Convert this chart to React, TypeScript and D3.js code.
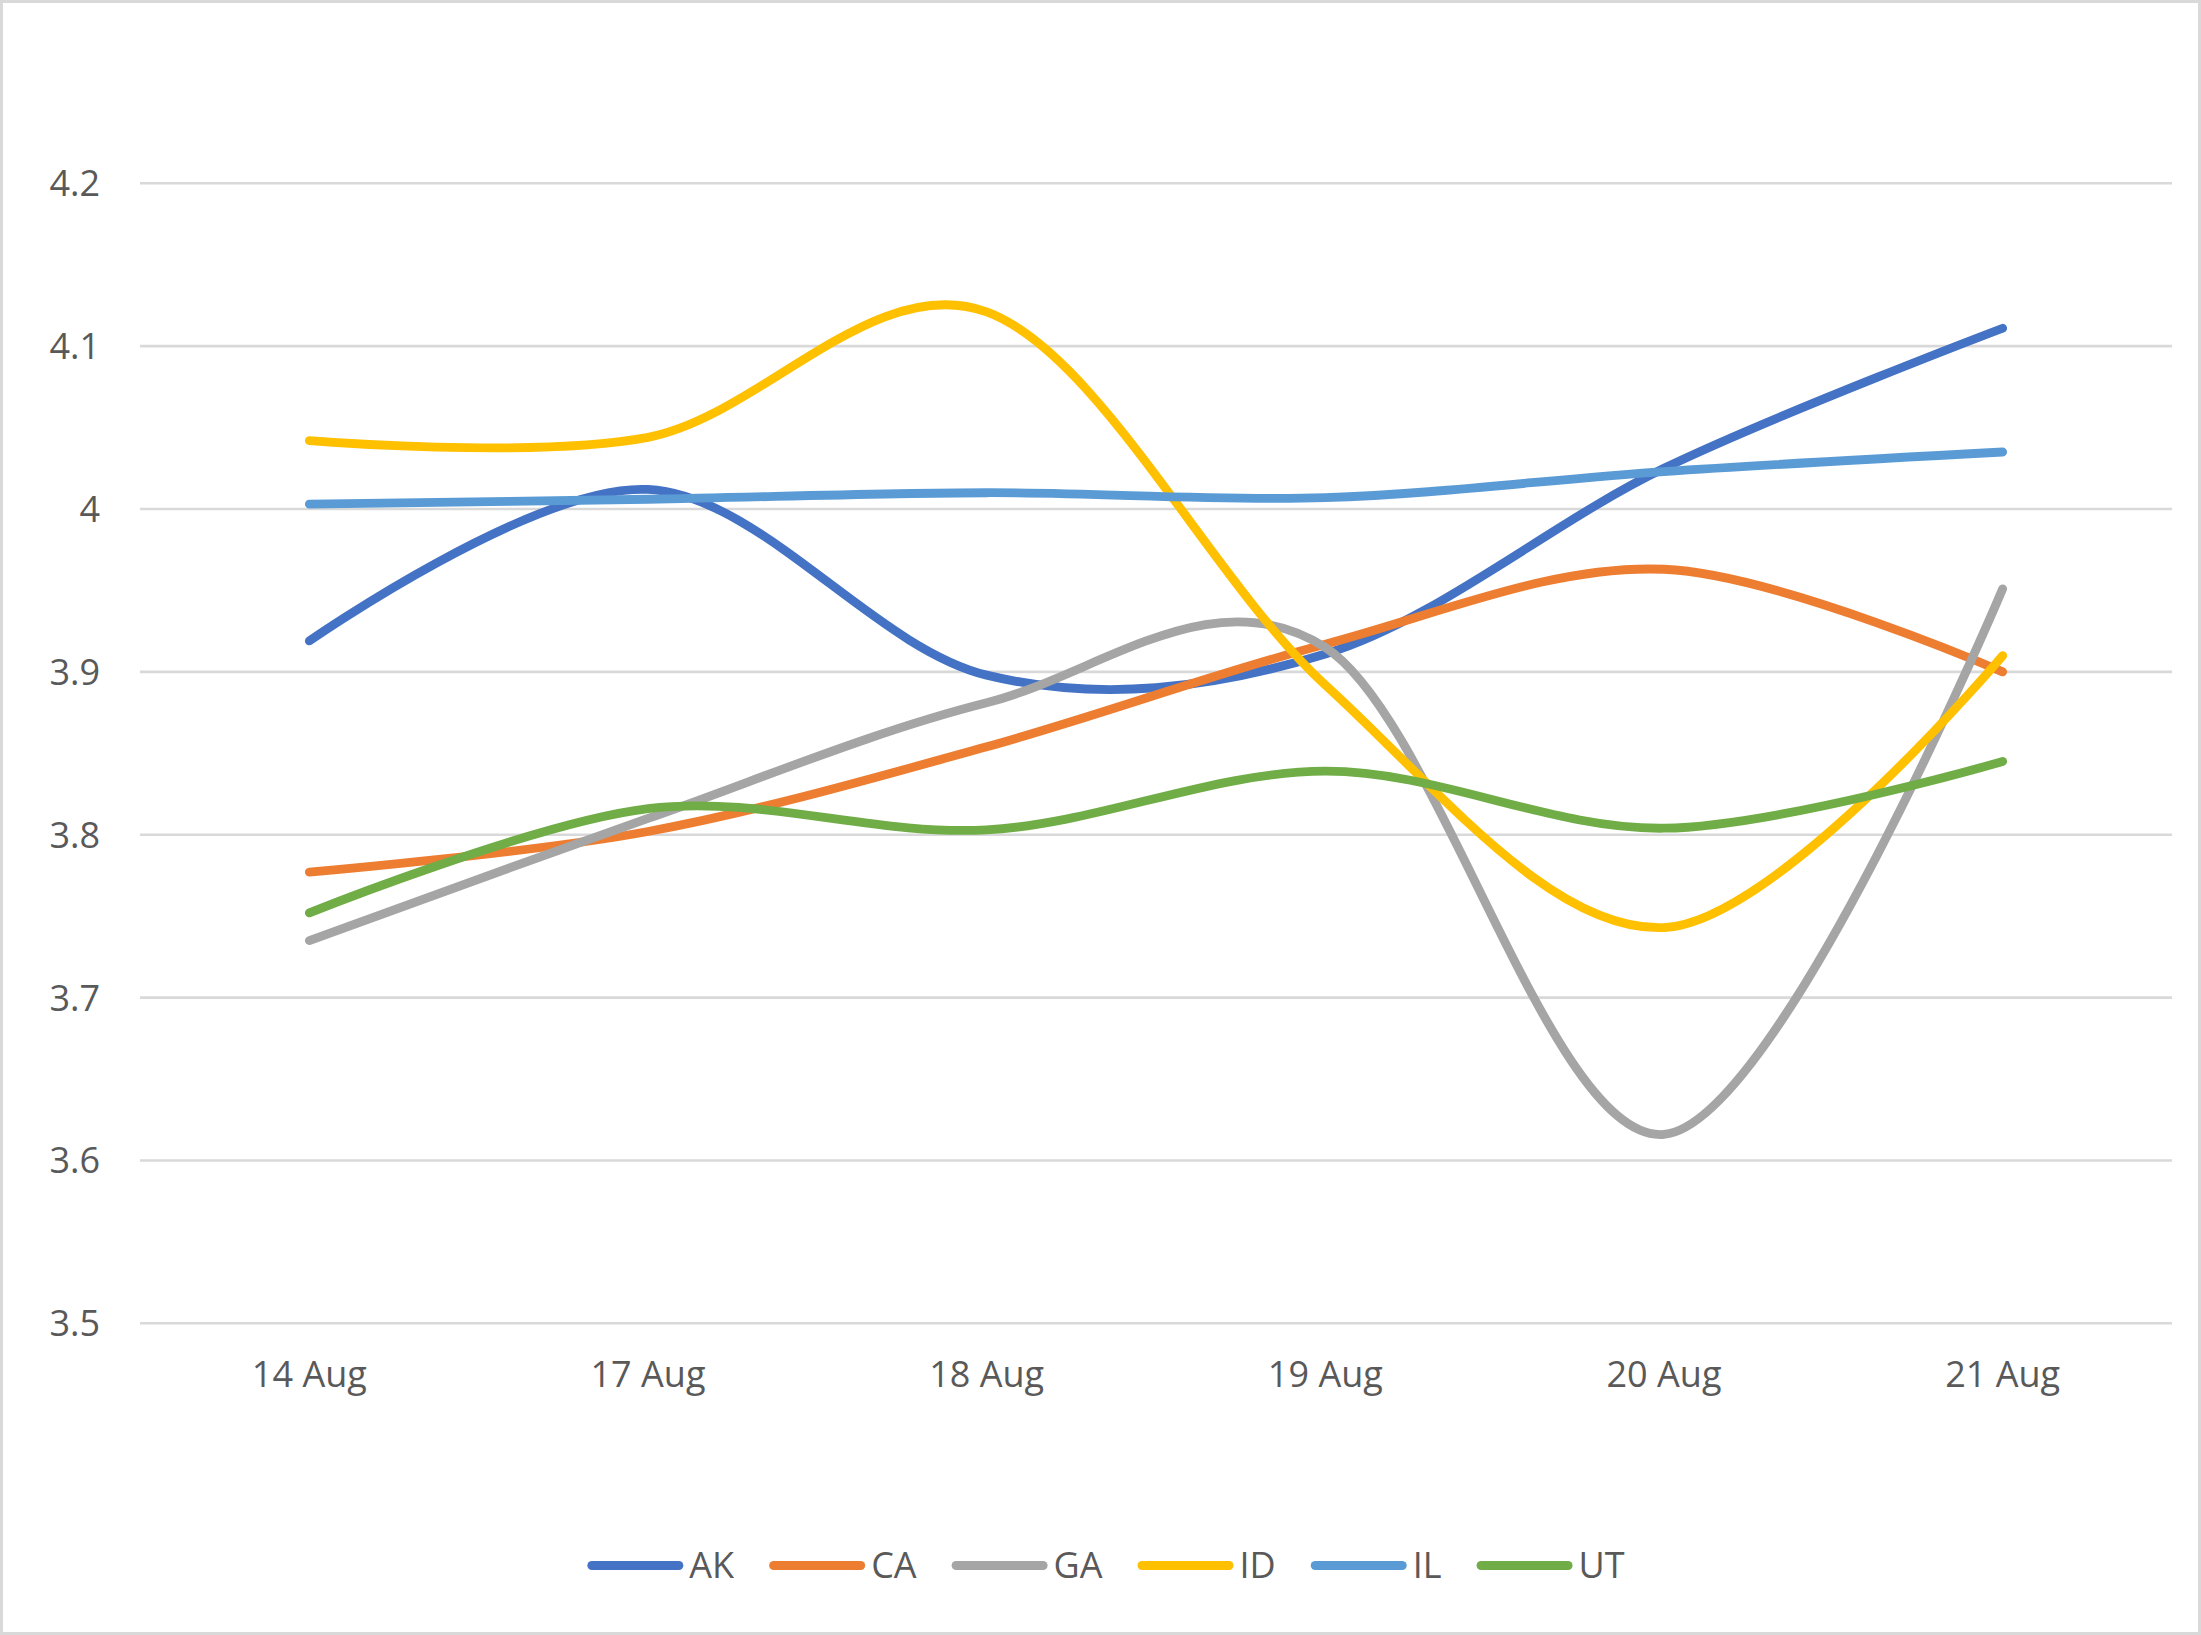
import React from "react";
import * as d3 from "d3";

const dates = ["14 Aug", "17 Aug", "18 Aug", "19 Aug", "20 Aug", "21 Aug"];
const seriesNames = ["AK", "CA", "GA", "ID", "IL", "UT"];
const seriesColors = ["#4472C4", "#ED7D31", "#A5A5A5", "#FFC000", "#5B9BD5", "#70AD47"];
const AK = [3.919, 4.012, 3.898, 3.911, 4.025, 4.111];
const CA = [3.777, 3.802, 3.854, 3.917, 3.963, 3.9];
const GA = [3.735, 3.81, 3.881, 3.915, 3.616, 3.951];
const ID = [4.042, 4.044, 4.121, 3.892, 3.743, 3.91];
const IL = [4.003, 4.006, 4.01, 4.007, 4.023, 4.035];
const UT = [3.752, 3.816, 3.803, 3.839, 3.804, 3.845];
const yTicks = [3.5, 3.6, 3.7, 3.8, 3.9, 4.0, 4.1, 4.2];

const seriesValues = [AK, CA, GA, ID, IL, UT];

const W = 2201;
const H = 1635;
const FONT = "'Open Sans', 'Noto Sans', sans-serif";
const FS = 36;
const TEXT = "#595959";

function measure(text: string): number {
  if (typeof document === "undefined") return text.length * FS * 0.6;
  const c = document.createElement("canvas");
  const ctx = c.getContext("2d");
  if (!ctx) return text.length * FS * 0.6;
  ctx.font = `${FS}px 'Open Sans', 'Noto Sans', sans-serif`;
  return ctx.measureText(text).width;
}

export default function App() {
  const x = d3.scalePoint<string>().domain(dates).range([140, 2172]).padding(0.5);
  const y = d3.scaleLinear().domain([3.5, 4.2]).range([1323.3, 183.3]);

  const line = d3
    .line<number>()
    .x((_, i) => x(dates[i]) as number)
    .y((v) => y(v))
    .curve(d3.curveCardinal.tension(0));

  // legend layout
  const lineLen = 96;
  const gapText = 6;
  const gapItem = 35;
  const widths = seriesNames.map((n) => measure(n));
  const itemWidths = widths.map((w) => lineLen + gapText + w);
  const total = itemWidths.reduce((a, b) => a + b, 0) + gapItem * (seriesNames.length - 1);
  const legendCenter = 1106;
  let cursor = legendCenter - total / 2;
  const legendItems = seriesNames.map((n, i) => {
    const start = cursor;
    cursor += itemWidths[i] + gapItem;
    return { name: n, color: seriesColors[i], start };
  });
  const legendY = 1565.5;

  return (
    <svg
      width={W}
      height={H}
      style={{ position: "absolute", left: 0, top: 0, background: "#fff" }}
      fontFamily={FONT}
    >
      <rect x={1.5} y={1.5} width={W - 3} height={H - 3} fill="#fff" stroke="#D9D9D9" strokeWidth={3} />
      <g>
        {yTicks.map((t) => (
          <g key={t}>
            <line x1={140} x2={2172} y1={y(t)} y2={y(t)} stroke="#D9D9D9" strokeWidth={2.6} />
            <text x={100} y={y(t) + 13} textAnchor="end" fontSize={FS} fill={TEXT}>
              {String(+t.toFixed(1))}
            </text>
          </g>
        ))}
      </g>
      <g>
        {dates.map((d) => (
          <text key={d} x={x(d) as number} y={1387} textAnchor="middle" fontSize={FS} fill={TEXT}>
            {d}
          </text>
        ))}
      </g>
      <g>
        {seriesValues.map((vals, i) => (
          <path
            key={seriesNames[i]}
            d={line(vals) || ""}
            fill="none"
            stroke={seriesColors[i]}
            strokeWidth={8.8}
            strokeLinecap="round"
            strokeLinejoin="round"
          />
        ))}
      </g>
      <g>
        {legendItems.map((it) => (
          <g key={it.name}>
            <line
              x1={it.start + 4.5}
              x2={it.start + lineLen - 4.5}
              y1={legendY}
              y2={legendY}
              stroke={it.color}
              strokeWidth={9}
              strokeLinecap="round"
            />
            <text x={it.start + lineLen + gapText} y={legendY + 12.5} fontSize={FS} fill={TEXT}>
              {it.name}
            </text>
          </g>
        ))}
      </g>
    </svg>
  );
}
